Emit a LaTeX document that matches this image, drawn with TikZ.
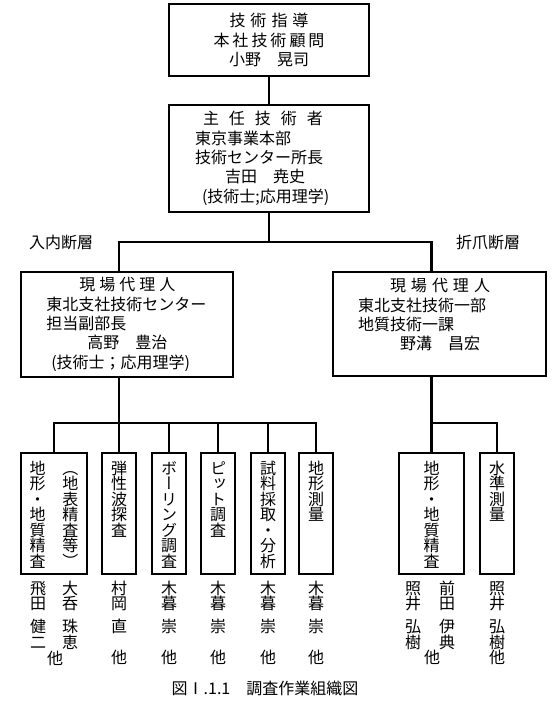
\documentclass[tikz,border=0pt]{standalone}
\usepackage{fontspec}
\setmainfont{Noto Sans CJK JP}
\newfontfamily\vjp[RawFeature=+vert]{Noto Sans CJK JP}

% letter spaced line
\newcommand\spaced[2]{\def\spgap{#1}\spfirst#2\relax}
\def\spfirst#1{#1\sploop}
\def\sploop#1{\ifx#1\relax\else\hspace{\spgap}#1\expandafter\sploop\fi}

% vertical text, one glyph per line, * = half gap
\def\vtloop#1{%
  \ifx#1\relax\else
    \ifx#1*\vskip5.6pt\else
      \hbox to 1em{\hss\vrule height.88em depth.12em width0pt#1\hss}%
    \fi
    \expandafter\vtloop
  \fi}
\newcommand\vstack[1]{\vbox{\vjp\baselineskip=11.6pt\lineskiplimit=-\maxdimen\vtloop#1\relax}}
\newcommand\vbody[1]{\vbox to 86pt{\kern3pt\vstack{#1}\vss}}

\begin{document}
\begin{tikzpicture}[x=0.75pt, y=-0.75pt,
  font=\fontsize{12pt}{14.5pt}\selectfont,
  post/.style={draw, line width=1.8pt, inner ysep=0pt, align=left},
  task/.style={draw, line width=1.8pt, inner sep=0pt,
               minimum width=25.5pt, minimum height=90.75pt},
  link/.style={line width=1.8pt},
  nm/.style={inner sep=0pt, anchor=north},
  one/.style={inner sep=0pt, text height=10.56pt, text depth=1.44pt}
]
  \useasboundingbox (0,0) rectangle (559,709);

  \node[post, align=center, text width=150pt, inner xsep=0pt,
        minimum height=54pt] (adv) at (269,40)
    {\spaced{3.75pt}{技術指導}\\ \spaced{2.25pt}{本社技術顧問}\\ 小野　晃司};
  \node[post, text width=111pt, inner xsep=19.5pt,
        minimum height=80.25pt] (chief) at (269,158.5)
    {\hspace*{6pt}\spaced{7.5pt}{主任技術者}\\ 東京事業本部\\ 技術センター所長\\
     \hspace*{22.5pt}吉田　尭史\\ \hspace*{5.25pt}(技術士;応用理学)};
  \node[post, text width=121pt, inner xsep=19pt,
        minimum height=78.75pt] (siteL) at (127,324.5)
    {\hspace*{24.75pt}\spaced{3pt}{現場代理人}\\ 東北支社技術センター\\ 担当副部長\\
     \hspace*{30.75pt}高野　豊治\\ \hspace*{3.75pt}(技術士；応用理学)};
  \node[post, text width=122.25pt, inner xsep=18.75pt,
        minimum height=78pt] (siteR) at (439.5,324)
    {\hspace*{24pt}\spaced{3.75pt}{現場代理人}\\ 東北支社技術一部\\ 地質技術一課\\
     \hspace*{31.5pt}野溝　昌宏\\ \mbox{}};

  \node (fltL) at (61,242)  {入内断層};
  \node (fltR) at (488,242) {折爪断層};

  % survey tasks
  \node[task, minimum width=49.5pt] (w1) at (54,513.5)
    {\vbody{地形・地質精査}\hspace{12.4pt}\vbody{（地表精査等）}};
  \node[task] (w2) at (119,513.5) {\vbody{弾性波探査}};
  \node[task] (w3) at (169,513.5) {\vbody{ボーリング調査}};
  \node[task] (w4) at (218,513.5) {\vbody{ピット調査}};
  \node[task] (w5) at (268,513.5) {\vbody{試料採取・分析}};
  \node[task] (w6) at (316,513.5) {\vbody{地形測量}};
  \node[task, minimum width=48.75pt] (w7) at (431.5,513.5) {\vbody{地形・地質精査}};
  \node[task] (w8) at (497,513.5) {\vbody{水準測量}};

  \coordinate (fork) at (269,242);
  \coordinate (busL) at (119,423);
  \draw[link] (adv) -- (chief);
  \draw[link] (chief) -- (fork);
  \draw[link] (siteL.north -| w2) |- (fork) -| (siteR.north -| w7);
  \draw[link] (siteL.south -| w2) -- (w2);
  \draw[link] (w1) |- (busL) -| (w6);
  \foreach \t in {w3,w4,w5}
    \draw[link] (\t) -- (\t |- busL);
  \draw[link] (siteR.south -| w7) -- (w7);
  \draw[link] (w8) |- (w7 |- busL);

  % staff
  \node[nm] (n1a) at (38,580)   {\vstack{飛田*健二}};
  \node[nm] (n1b) at (70,580)   {\vstack{大呑*珠恵}};
  \node[one] (n1c) at (55,658)  {他};
  \node[nm] (n2) at (119,580)   {\vstack{村岡*直　他}};
  \node[nm] (n3) at (169,580)   {\vstack{木暮*崇　他}};
  \node[nm] (n4) at (218,580)   {\vstack{木暮*崇　他}};
  \node[nm] (n5) at (268,580)   {\vstack{木暮*崇　他}};
  \node[nm] (n6) at (316,580)   {\vstack{木暮*崇　他}};
  \node[nm] (n7a) at (413,580)  {\vstack{照井*弘樹}};
  \node[nm] (n7b) at (447,580)  {\vstack{前田*伊典}};
  \node[one] (n7c) at (432,657) {他};
  \node[nm] (n8) at (497,580)   {\vstack{照井*弘樹他}};

  \node (cap) at (265,688) {図Ⅰ.1.1　調査作業組織図};
\end{tikzpicture}
\end{document}
